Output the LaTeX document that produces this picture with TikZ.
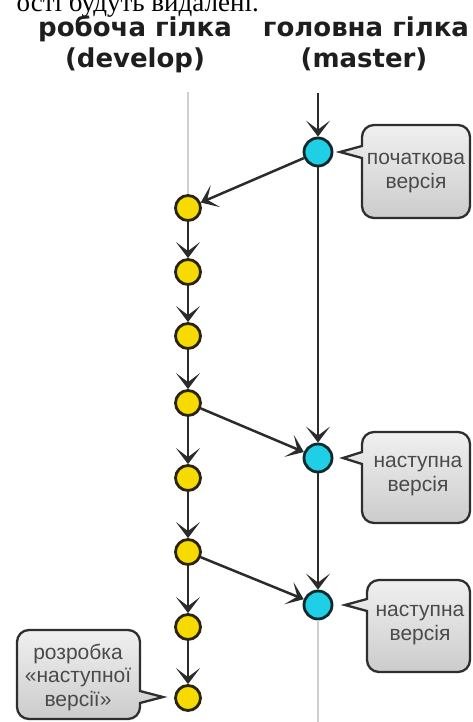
\documentclass[tikz,border=0pt]{standalone}
\usepackage{fontspec}
\setmainfont{Liberation Sans}
\newfontfamily\headfont{DejaVu Sans}
\newfontfamily\serifff{Liberation Serif}
\usetikzlibrary{arrows.meta}
\definecolor{yel}{HTML}{F6DA00}
\definecolor{cya}{HTML}{1FCFE6}
\definecolor{ringc}{HTML}{2A2410}
\definecolor{ringm}{HTML}{10292C}
\definecolor{arrc}{HTML}{2B2B2B}
\definecolor{greyline}{HTML}{CFCFCF}
\definecolor{bubc}{HTML}{2E2E2E}
\definecolor{lblc}{HTML}{4A4A4A}
\definecolor{headc}{HTML}{1E1E1E}
\begin{document}
\begin{tikzpicture}[x=1pt,y=-1pt,
  dev/.style={circle, fill=yel, draw=ringc, line width=2.8pt, minimum size=25pt, inner sep=0pt},
  mas/.style={circle, fill=cya, draw=ringm, line width=2.8pt, minimum size=28pt, inner sep=0pt},
  arr/.style={draw=arrc, line width=2.5pt, -{Stealth[length=16pt,width=24pt,inset=9pt]}},
  faint/.style={draw=greyline, line width=2.6pt},
  bubble/.style={draw=bubc, line width=2.3pt, top color=black!6, bottom color=black!20},
  lbl/.style={align=center, text=lblc, font=\fontsize{21}{23.5}\selectfont, inner sep=0pt},
  head/.style={anchor=base, text=headc, font=\headfont\bfseries\fontsize{26}{31}\selectfont, inner sep=0pt}]
\useasboundingbox (0,0) rectangle (472,722);
\clip (0,0) rectangle (472,722);

% clipped text at the very top
\node[anchor=base east, inner sep=0pt, font=\serifff\fontsize{27}{30}\selectfont] (toptext) at (259,12) {ості будуть видалені.};

% headings
\node[head] (h1) at (135,37) {робоча гілка};
\node[head] (h2) at (135,68) {(develop)};
\node[head] (h3) at (366,37) {головна гілка};
\node[head] (h4) at (364,68) {(master)};

% branch nodes
\coordinate (d0) at (188,92);
\coordinate (m0) at (318,93);
\coordinate (m4) at (318,722);
\node[dev] (y1) at (188,208) {};
\node[dev] (y2) at (188,272) {};
\node[dev] (y3) at (188,336) {};
\node[dev] (y4) at (188,403) {};
\node[dev] (y5) at (188,478) {};
\node[dev] (y6) at (188,552) {};
\node[dev] (y7) at (188,627) {};
\node[dev] (y8) at (188,698) {};
\node[mas] (c1) at (318,152) {};
\node[mas] (c2) at (318,458) {};
\node[mas] (c3) at (318,605) {};

% lines
\draw[faint] (d0) -- (y1);
\draw[faint] (c3) -- (m4);
\draw[arr] (m0) -- (c1);
\draw[arr] (c1) -- (c2);
\draw[arr] (c2) -- (c3);
\draw[arr] (y1) -- (y2);
\draw[arr] (y2) -- (y3);
\draw[arr] (y3) -- (y4);
\draw[arr] (y4) -- (y5);
\draw[arr] (y5) -- (y6);
\draw[arr] (y6) -- (y7);
\draw[arr] (y7) -- (y8);
\draw[arr] (c1) -- (y1);
\draw[arr] (y4) -- (c2);
\draw[arr] (y6) -- (c3);

% speech bubbles
\draw[bubble] (416,218) [rounded corners=12pt] -- (470,218) -- (470,125) -- (362,125) [sharp corners] -- (362,146) -- (340,152) -- (362,158) [rounded corners=12pt] -- (362,218) -- cycle;
\node[lbl] (l1) at (416,173) {початкова\\версія};

\draw[bubble] (416,523) [rounded corners=12pt] -- (470,523) -- (470,432) -- (362,432) [sharp corners] -- (362,452) -- (343,458) -- (362,464) [rounded corners=12pt] -- (362,523) -- cycle;
\node[lbl] (l2) at (418,476) {наступна\\версія};

\draw[bubble] (418,672) [rounded corners=12pt] -- (470,672) -- (470,580) -- (367,580) [sharp corners] -- (367,599) -- (345,605) -- (367,611) [rounded corners=12pt] -- (367,672) -- cycle;
\node[lbl] (l3) at (420,625) {наступна\\версія};

\draw[bubble] (78,719) [rounded corners=12pt] -- (17,719) -- (17,630) -- (140,630) [sharp corners] -- (140,691) -- (163,697) -- (140,703) [rounded corners=12pt] -- (140,719) -- cycle;
\node[lbl] (l4) at (78,677) {розробка\\«наступної\\версії»};
\end{tikzpicture}
\end{document}
